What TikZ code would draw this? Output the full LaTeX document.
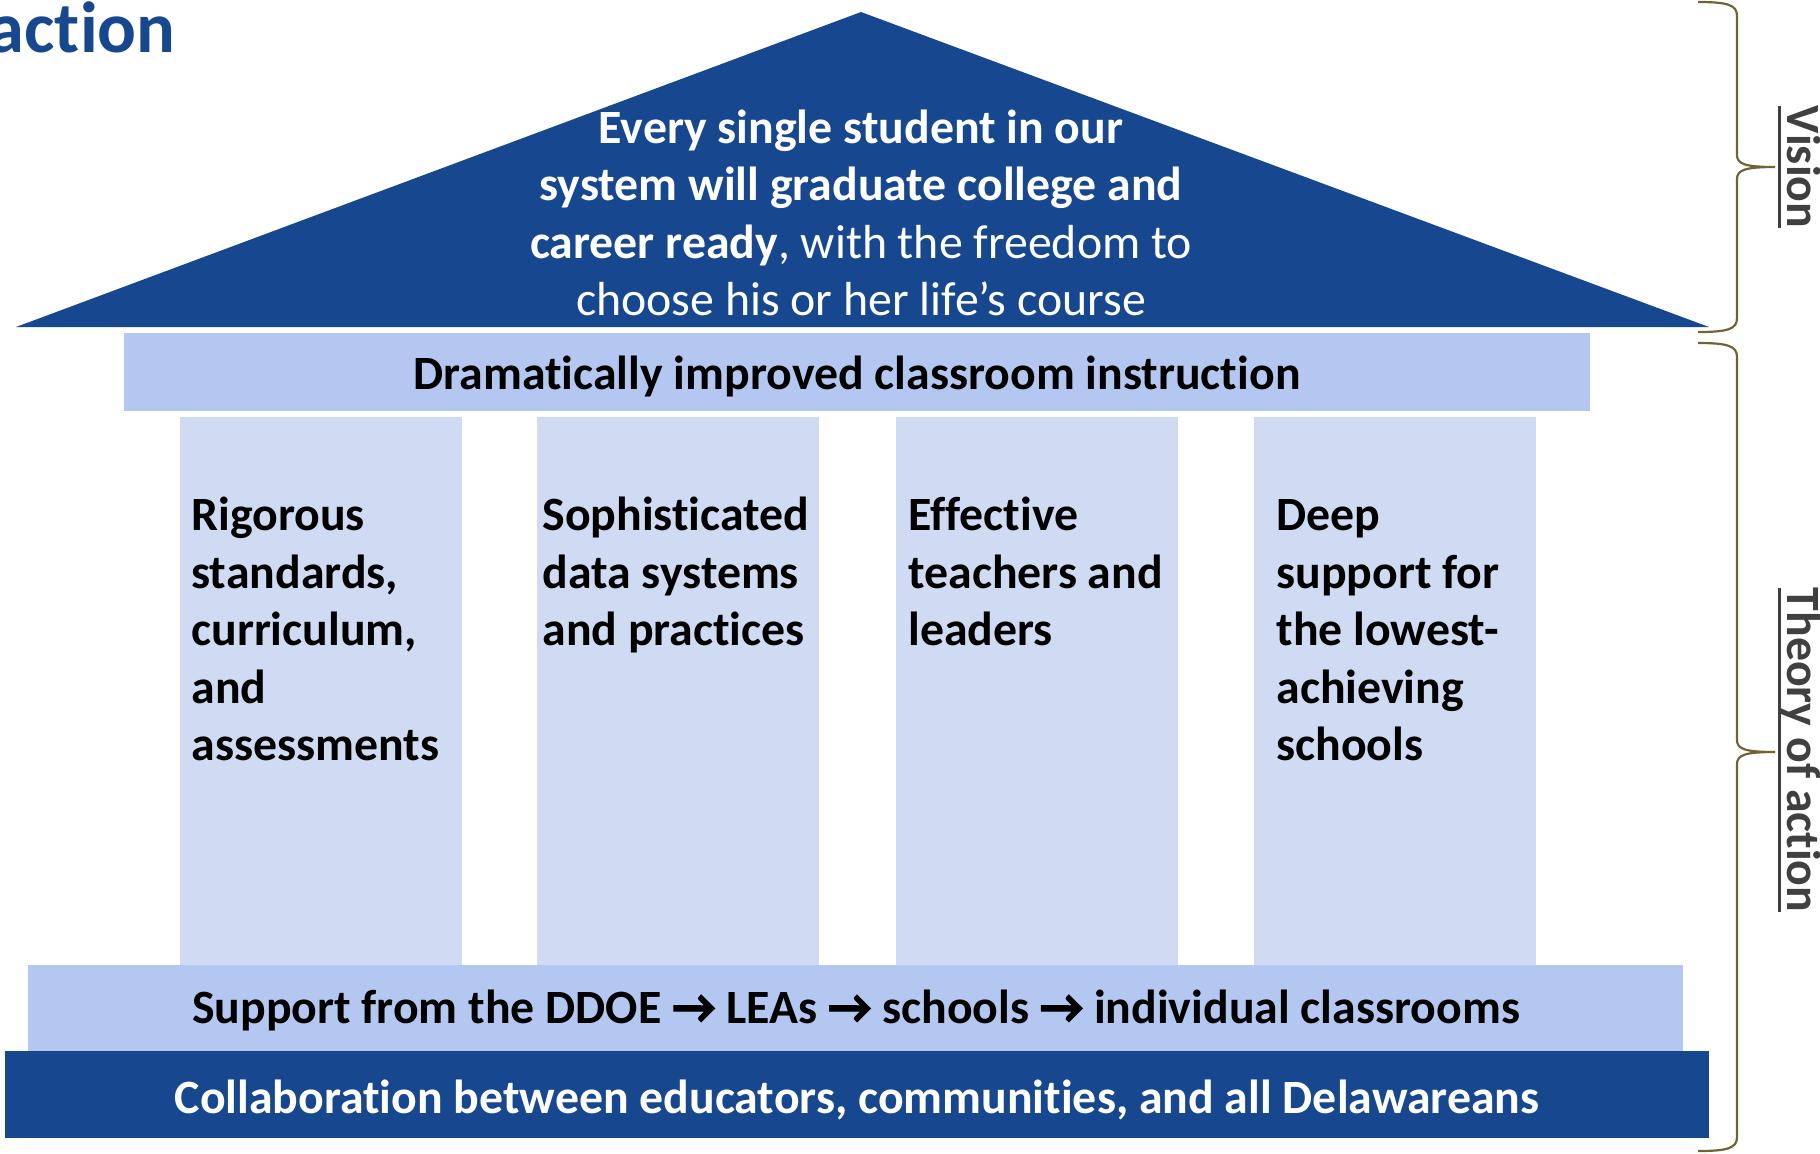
\documentclass[tikz,border=0pt]{standalone}
\usepackage{fontspec}
\setmainfont{Carlito}[Ligatures={NoCommon}]
\newfontfamily\arrowfont{Carlito}[FakeBold=2.5]

\definecolor{roofblue}{RGB}{23,72,143}
\definecolor{bandblue}{RGB}{180,199,240}
\definecolor{pillarblue}{RGB}{207,218,243}
\definecolor{bracegold}{RGB}{112,100,52}
\definecolor{labelgray}{RGB}{64,64,64}

% underline at a fixed depth, whatever the descenders
\newcommand{\sideul}[1]{\setbox0\hbox{#1}\rlap{\rule[-4.5pt]{\wd0}{1.6pt}}\box0}
\newcommand{\thento}{{\arrowfont →}}

\tikzset{
  bodyfont/.style={font=\fontsize{23.9}{28.75}\selectfont},
  boldfont/.style={font=\bfseries\fontsize{23.9}{28.75}\selectfont},
  rooftext/.style={bodyfont, text=white, align=center, inner sep=0pt, anchor=north},
  pillartext/.style={boldfont, align=left, inner sep=0pt, anchor=north west},
  bandtext/.style={boldfont, inner sep=0pt, anchor=base},
  sidelabel/.style={boldfont, text=labelgray, inner sep=0pt, rotate=-90, anchor=base},
  sidebrace/.style={draw=bracegold, line width=1.1pt},
}

\begin{document}
\begin{tikzpicture}[x=0.5pt,y=-0.5pt]
    \useasboundingbox (0,0) rectangle (1820,1153);

    % heading, cut off at the left
    \node[font=\bfseries\fontsize{36.2}{43}\selectfont, text=roofblue, inner sep=0pt, anchor=base east] (heading) at (176,52) {action};

    % roof
    \fill[roofblue] (16,327) -- (861,12) -- (1709,327) -- cycle;
    \node[rooftext] (vision) at (861,102.75) {\strut\textbf{Every single student in our}\\
        \textbf{system will graduate college and}\\
        \textbf{career ready}, with the freedom to\\
        choose his or her life’s course};

    % beam
    \fill[bandblue] (124,333) rectangle (1590,411);
    \node[bandtext] (instruction) at (857,389) {Dramatically improved classroom instruction};

    % pillars
    \foreach \x in {180,537,896,1254}
        \fill[pillarblue] (\x,417) rectangle +(282,548);
    \node[pillartext] (standards) at (191,490) {\strut Rigorous\\ standards,\\ curriculum,\\ and\\ assessments};
    \node[pillartext] (data) at (542,490) {\strut Sophisticated\\ data systems\\ and practices};
    \node[pillartext] (teachers) at (908,490) {\strut Effective\\ teachers and\\ leaders};
    \node[pillartext] (lowest) at (1276,490) {\strut Deep\\ support for\\ the lowest-\\ achieving\\ schools};

    % foundation
    \fill[bandblue] (28,965) rectangle (1683,1051);
    \node[bandtext] (support) at (856,1023) {Support from the DDOE \thento\ LEAs \thento\ schools \thento\ individual classrooms};
    \fill[roofblue] (5,1051) rectangle (1709,1138);
    \node[bandtext, text=white] (collab) at (857,1113) {Collaboration between educators, communities, and all Delawareans};

    % braces on the right
    \foreach \top/\mid/\bot in {2/167/332, 343/752/1151}
        \draw[sidebrace] (1698,\top) .. controls (1728,\top) and (1737,\top+3) .. (1737,\top+14)
            -- (1737,\mid-12) .. controls (1737,\mid-3) and (1745,\mid) .. (1775,\mid)
            .. controls (1745,\mid) and (1737,\mid+3) .. (1737,\mid+12)
            -- (1737,\bot-14) .. controls (1737,\bot-3) and (1728,\bot) .. (1698,\bot);
    \node[sidelabel] (visionlabel) at (1787,167) {\sideul{Vision}};
    \node[sidelabel] (theorylabel) at (1787,750) {\sideul{Theory of action}};
\end{tikzpicture}
\end{document}
